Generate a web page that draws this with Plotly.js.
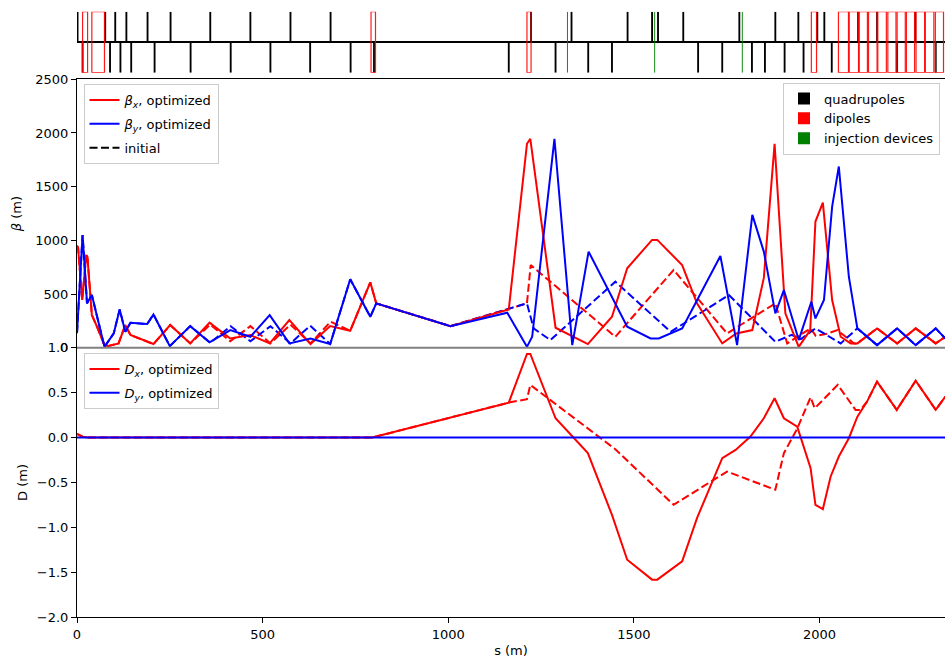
<!DOCTYPE html>
<html>
<head>
<meta charset="utf-8">
<script src="https://cdn.plot.ly/plotly-3.0.1.min.js"></script>
<style>html,body{margin:0;padding:0;background:#fff;}#chart{width:945px;height:658px;}</style>
</head>
<body>
<div id="chart"></div>
<script>
// ---------- lattice (m) ----------
const quadUpper = [1.5, 76, 103, 133, 190, 252, 359, 467, 575, 683, 1223, 1332, 1483, 1549, 1565, 1633, 1784, 1881, 1943, 1994, 2013, 2104, 2155, 2258];
const quadLower = [15, 89, 117, 146, 209, 306, 414, 521, 628, 737, 800, 1163, 1289, 1377, 1441, 1673, 1738, 1818, 1853, 1906, 1957, 2033, 2209, 2313];
const dipoleStart = [15, 40, 792, 1212, 1978, 2051, 2080, 2107, 2132, 2157, 2184, 2209, 2234, 2260, 2285, 2312];
const dipoleEnd   = [28.5, 74, 804, 1223, 1992, 2078, 2105, 2129, 2155, 2180, 2206, 2231, 2256, 2283, 2308, 2334];
const injection = [1321, 1556, 1792];

// ---------- beta functions (m) ----------
const bxS = [0, 3, 14, 25, 28, 40, 54, 74, 85, 112, 130, 144, 206, 251, 305, 357, 413, 467, 519, 572, 629, 682, 736, 790, 806, 1006, 1163, 1212, 1221, 1289, 1376, 1441, 1482, 1549, 1563, 1630, 1670, 1738, 1776, 1819, 1850, 1879, 1908, 1944, 1975, 1989, 2009, 2034, 2057, 2084, 2102, 2155, 2209, 2259, 2313, 2339];
const bxV = [950, 930, 444, 864, 848, 304, 195, 24, 15, 40, 211, 118, 34, 211, 40, 233, 86, 118, 40, 257, 34, 201, 158, 609, 413, 201, 357, 1899, 1946, 186, 34, 288, 740, 1004, 1004, 770, 413, 40, 133, 164, 650, 1898, 320, 8, 164, 1175, 1352, 444, 102, 40, 40, 180, 40, 180, 40, 102];

const byS = [0, 15, 27, 40, 74, 99, 115, 130, 144, 189, 206, 250, 305, 357, 413, 467, 519, 572, 629, 682, 736, 790, 806, 1006, 1159, 1212, 1226, 1286, 1334, 1378, 1482, 1545, 1567, 1630, 1733, 1778, 1819, 1850, 1881, 1904, 1944, 1978, 1989, 2012, 2034, 2052, 2079, 2102, 2155, 2209, 2259, 2313, 2339];
const byV = [136, 1050, 413, 490, 8, 133, 357, 148, 232, 220, 310, 15, 201, 50, 164, 102, 304, 40, 86, 34, 637, 288, 413, 201, 326, 8, 102, 1946, 24, 895, 195, 86, 86, 180, 854, 24, 1237, 895, 320, 537, 71, 428, 273, 444, 1314, 1688, 661, 180, 24, 180, 24, 180, 86];

const bx0S = [0, 3, 14, 25, 28, 40, 54, 74, 85, 112, 130, 144, 206, 251, 305, 359, 413, 467, 521, 575, 629, 683, 736, 790, 806, 1006, 1212, 1222, 1450, 1607, 1751, 1881, 1913, 1944, 1976, 1990, 2020, 2048, 2093, 2102, 2155, 2209, 2259, 2313, 2339];
const bx0V = [950, 930, 444, 864, 848, 304, 195, 24, 15, 40, 211, 118, 34, 211, 40, 215, 60, 201, 40, 215, 40, 242, 158, 609, 413, 201, 413, 770, 102, 724, 133, 413, 40, 110, 180, 110, 130, 164, 40, 40, 180, 40, 180, 40, 102];

const by0S = [0, 15, 27, 40, 74, 99, 115, 130, 144, 189, 206, 250, 305, 359, 414, 467, 521, 575, 628, 682, 736, 790, 806, 1006, 1212, 1230, 1275, 1450, 1599, 1756, 1881, 1925, 1950, 1989, 2057, 2102, 2155, 2209, 2259, 2313, 2339];
const by0V = [136, 1050, 413, 490, 8, 133, 357, 148, 232, 220, 310, 15, 201, 46, 200, 60, 200, 40, 205, 34, 637, 288, 413, 201, 413, 180, 71, 615, 148, 491, 55, 120, 80, 180, 40, 180, 24, 180, 24, 180, 86];

// ---------- dispersion (m) ----------
const dxS = [0, 5, 15, 30, 795, 1163, 1212, 1221, 1289, 1376, 1441, 1482, 1549, 1563, 1630, 1670, 1738, 1774, 1814, 1850, 1879, 1904, 1940, 1976, 1989, 2009, 2030, 2052, 2079, 2102, 2128, 2155, 2208, 2259, 2313, 2339];
const dxV = [0.04, 0.03, 0.01, 0, 0, 0.389, 0.93, 0.93, 0.215, -0.173, -0.86, -1.359, -1.581, -1.581, -1.378, -0.896, -0.229, -0.137, 0.011, 0.215, 0.438, 0.215, 0.122, -0.34, -0.748, -0.796, -0.433, -0.211, -0.007, 0.233, 0.4, 0.622, 0.308, 0.633, 0.308, 0.456];
const dx0S = [0, 5, 15, 30, 795, 1163, 1212, 1221, 1450, 1607, 1751, 1881, 1904, 1940, 1976, 1987, 2049, 2097, 2110, 2128, 2155, 2208, 2259, 2313, 2339];
const dx0V = [0.04, 0.03, 0.01, 0, 0, 0.389, 0.427, 0.586, -0.13, -0.748, -0.378, -0.581, -0.174, 0.1, 0.449, 0.326, 0.586, 0.308, 0.308, 0.4, 0.622, 0.308, 0.633, 0.308, 0.456];
const dyS = [0, 2339];
const dyV = [0, 0];

const sRange = [0, 2338];

// ---------- build ----------
const FONT = {family: 'DejaVu Sans, sans-serif', size: 13, color: '#000'};
const RED = '#ff0000', BLUE = '#0000ff';
const DASH = '8px,3.5px';
const traces = [];

// lattice
const quadX = quadUpper.concat(quadLower);
const quadY = quadUpper.map(() => 1).concat(quadLower.map(() => -1));
traces.push({type: 'bar', x: quadX, y: quadY, base: 0, width: quadX.map(() => 5),
  xaxis: 'x3', yaxis: 'y3', marker: {color: '#000', line: {width: 0}},
  name: 'quadrupoles', legend: 'legend3', hoverinfo: 'skip'});
traces.push({type: 'bar', x: dipoleStart.map((a, i) => (a + dipoleEnd[i]) / 2),
  y: dipoleStart.map(() => 2), base: -1, width: dipoleStart.map((a, i) => dipoleEnd[i] - a),
  xaxis: 'x3', yaxis: 'y3', marker: {color: 'rgba(0,0,0,0)', line: {color: 'rgba(255,0,0,0.9)', width: 1.2}},
  showlegend: false, hoverinfo: 'skip'});
traces.push({type: 'bar', x: [null], y: [null], xaxis: 'x3', yaxis: 'y3',
  marker: {color: RED}, name: 'dipoles', legend: 'legend3'});
traces.push({type: 'bar', x: injection, y: injection.map(() => 2), base: -1, width: injection.map(() => 2.5),
  xaxis: 'x3', yaxis: 'y3', marker: {color: '#008000', line: {width: 0}},
  name: 'injection devices', legend: 'legend3', hoverinfo: 'skip'});

// beta
traces.push({x: bx0S, y: bx0V, mode: 'lines', line: {color: RED, width: 2, dash: DASH}, xaxis: 'x2', yaxis: 'y2', showlegend: false});
traces.push({x: by0S, y: by0V, mode: 'lines', line: {color: BLUE, width: 2, dash: DASH}, xaxis: 'x2', yaxis: 'y2', showlegend: false});
traces.push({x: bxS, y: bxV, mode: 'lines', line: {color: RED, width: 2}, xaxis: 'x2', yaxis: 'y2',
  name: '<i>β<sub>x</sub></i>, optimized', legend: 'legend', legendgroup: 'a'});
traces.push({x: byS, y: byV, mode: 'lines', line: {color: BLUE, width: 2}, xaxis: 'x2', yaxis: 'y2',
  name: '<i>β<sub>y</sub></i>, optimized', legend: 'legend', legendgroup: 'b'});
traces.push({x: [null], y: [null], mode: 'lines', line: {color: '#000', width: 2, dash: DASH}, xaxis: 'x2', yaxis: 'y2',
  name: 'initial', legend: 'legend', legendgroup: 'c'});

// dispersion
traces.push({x: dx0S, y: dx0V, mode: 'lines', line: {color: RED, width: 2, dash: DASH}, xaxis: 'x', yaxis: 'y', showlegend: false});
traces.push({x: dxS, y: dxV, mode: 'lines', line: {color: RED, width: 2}, xaxis: 'x', yaxis: 'y',
  name: '<i>D<sub>x</sub></i>, optimized', legend: 'legend2', legendgroup: 'd'});
traces.push({x: dyS, y: dyV, mode: 'lines', line: {color: BLUE, width: 2}, xaxis: 'x', yaxis: 'y',
  name: '<i>D<sub>y</sub></i>, optimized', legend: 'legend2', legendgroup: 'e'});

const H = 658;
const py = p => 1 - p / H;
const legendBase = {bgcolor: 'rgba(255,255,255,0.8)', bordercolor: '#cccccc', borderwidth: 1,
  font: FONT, itemwidth: 30, traceorder: 'grouped', xanchor: 'left', yanchor: 'top', tracegroupgap: 4};

const layout = {
  width: 945, height: 658,
  margin: {l: 77, r: 0, t: 0, b: 0},
  paper_bgcolor: '#fff', plot_bgcolor: 'rgba(0,0,0,0)',
  font: FONT,
  showlegend: true,
  barmode: 'overlay',
  hovermode: false,
  xaxis: {anchor: 'y', domain: [0, 1], range: sRange, tickvals: [0, 500, 1000, 1500, 2000],
    ticks: 'outside', ticklen: 5, tickcolor: '#000', showline: true, linecolor: '#000', linewidth: 1,
    showgrid: false, zeroline: false, automargin: false,
    title: {text: 's (m)', font: FONT, standoff: 6}},
  yaxis: {anchor: 'x', domain: [py(617.3), py(347.7)], range: [-2, 1], dtick: 0.5, tickformat: '.1f',
    ticks: 'outside', ticklen: 5, tickcolor: '#000', showline: true, linecolor: '#000', linewidth: 1,
    showgrid: false, zeroline: false, automargin: false,
    title: {text: 'D (m)', font: FONT, standoff: 6}},
  xaxis2: {anchor: 'y2', matches: 'x', range: sRange, side: 'top', showticklabels: false, ticks: '',
    showline: true, linecolor: '#000', linewidth: 1.5, showgrid: false, zeroline: false, automargin: false},
  yaxis2: {anchor: 'x2', domain: [py(347.7), py(79.3)], range: [0, 2500], dtick: 500,
    ticks: 'outside', ticklen: 5, tickcolor: '#000', showline: true, linecolor: '#000', linewidth: 1,
    showgrid: false, zeroline: false, automargin: false,
    title: {text: '<i>β</i> (m)', font: FONT, standoff: 10}},
  xaxis3: {anchor: 'y3', matches: 'x', range: sRange, visible: false},
  yaxis3: {anchor: 'x3', domain: [py(72.7), py(11.7)], range: [-1, 1], showticklabels: false, ticks: '',
    showgrid: false, showline: false, zeroline: true, zerolinecolor: '#000', zerolinewidth: 1.5, automargin: false},
  legend: Object.assign({}, legendBase, {x: 6.5 / 868, y: py(84)}),
  legend2: Object.assign({}, legendBase, {x: 6.5 / 868, y: py(353)}),
  legend3: Object.assign({}, legendBase, {x: (940 - 77) / 868, y: py(82.5), xanchor: 'right', traceorder: 'normal'}),
  shapes: [
    {type: 'line', xref: 'paper', yref: 'paper', x0: 0, x1: 1, y0: py(347.7), y1: py(347.7),
     line: {color: '#808080', width: 2}}
  ]
};

Plotly.newPlot('chart', traces, layout, {staticPlot: true, displayModeBar: false});
</script>
</body>
</html>
